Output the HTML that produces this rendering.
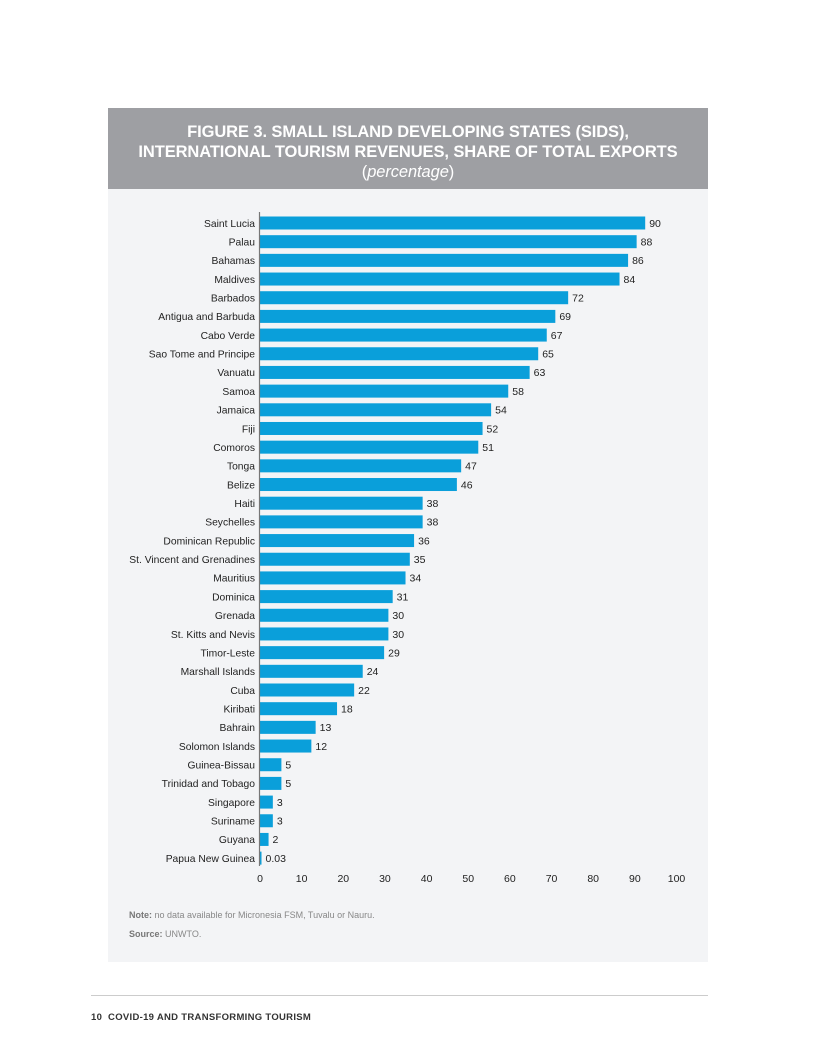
<!DOCTYPE html>
<html><head><meta charset="utf-8"><style>
body{margin:0;width:816px;height:1056px;background:#fff;position:relative;font-family:"Liberation Sans",sans-serif;overflow:hidden}
#panel{position:absolute;left:108px;top:108px;width:600px;height:854px;background:#f3f4f6}
#header{position:absolute;left:108px;top:108px;width:600px;height:81px;background:#9e9fa3;color:#fff;text-align:center;font-weight:bold;font-size:16.5px;line-height:20px;padding-top:14px;box-sizing:border-box;letter-spacing:-0.1px}
#header i{font-weight:normal}
.note{position:absolute;left:129px;font-size:9px;color:#888}
.note b{color:#777}
#rule{position:absolute;left:91px;top:995px;width:617px;height:1px;background:#ccc}
#footer{position:absolute;left:91px;top:1012px;font-size:9.5px;font-weight:bold;color:#333;letter-spacing:0.3px}
</style></head><body>
<div id="panel"></div>
<div id="header">FIGURE 3. SMALL ISLAND DEVELOPING STATES (SIDS),<br>INTERNATIONAL TOURISM REVENUES, SHARE OF TOTAL EXPORTS<br><span style="font-weight:normal">(<i>percentage</i>)</span></div>
<svg id="chart" width="816" height="1056" style="position:absolute;left:0;top:0"></svg>
<div class="note" style="top:910px"><b>Note:</b> no data available for Micronesia FSM, Tuvalu or Nauru.</div>
<div class="note" style="top:929px"><b>Source:</b> UNWTO.</div>
<div id="rule"></div>
<div id="footer">10&nbsp; COVID-19 AND TRANSFORMING TOURISM</div>
<script>
const categories=["Saint Lucia","Palau","Bahamas","Maldives","Barbados","Antigua and Barbuda","Cabo Verde","Sao Tome and Principe","Vanuatu","Samoa","Jamaica","Fiji","Comoros","Tonga","Belize","Haiti","Seychelles","Dominican Republic","St. Vincent and Grenadines","Mauritius","Dominica","Grenada","St. Kitts and Nevis","Timor-Leste","Marshall Islands","Cuba","Kiribati","Bahrain","Solomon Islands","Guinea-Bissau","Trinidad and Tobago","Singapore","Suriname","Guyana","Papua New Guinea"];
const values=[90,88,86,84,72,69,67,65,63,58,54,52,51,47,46,38,38,36,35,34,31,30,30,29,24,22,18,13,12,5,5,3,3,2,0.03];
const valueLabels=["90","88","86","84","72","69","67","65","63","58","54","52","51","47","46","38","38","36","35","34","31","30","30","29","24","22","18","13","12","5","5","3","3","2","0.03"];
const ticks=[0,10,20,30,40,50,60,70,80,90,100];
const svg=document.getElementById('chart');
const NS='http://www.w3.org/2000/svg';
const x0=260;
const xBar=v=>x0+v*4.28;
const xTick=v=>x0+v*4.165;
const yC=i=>223+i*18.68;
function mk(t,a){const e=document.createElementNS(NS,t);for(const k in a)e.setAttribute(k,a[k]);svg.appendChild(e);return e;}
categories.forEach((c,i)=>{
  const y=yC(i);
  const w=Math.max(xBar(values[i])-x0,1.5);
  const r=mk('rect',{x:x0,y:y-6.5,width:w,height:13,fill:'#0a9fda'});
  
  
  const l=mk('text',{x:255,y:y+3.8,'text-anchor':'end','font-size':'10.3',fill:'#222','font-family':'Liberation Sans, sans-serif'});
  l.textContent=c;
  
  
  const v=mk('text',{x:x0+w+4,y:y+3.8,'font-size':'10.5',fill:'#222','font-family':'Liberation Sans, sans-serif'});
  v.textContent=valueLabels[i];
  
  
});
const ax=mk('line',{x1:x0-0.5,x2:x0-0.5,y1:212,y2:866,stroke:'#777','stroke-width':1.2});


ticks.forEach(t=>{
  const e=mk('text',{x:xTick(t),y:882,'text-anchor':'middle','font-size':'10.5',fill:'#222','font-family':'Liberation Sans, sans-serif'});
  e.textContent=t;
  
  
});
</script>
</body></html>
